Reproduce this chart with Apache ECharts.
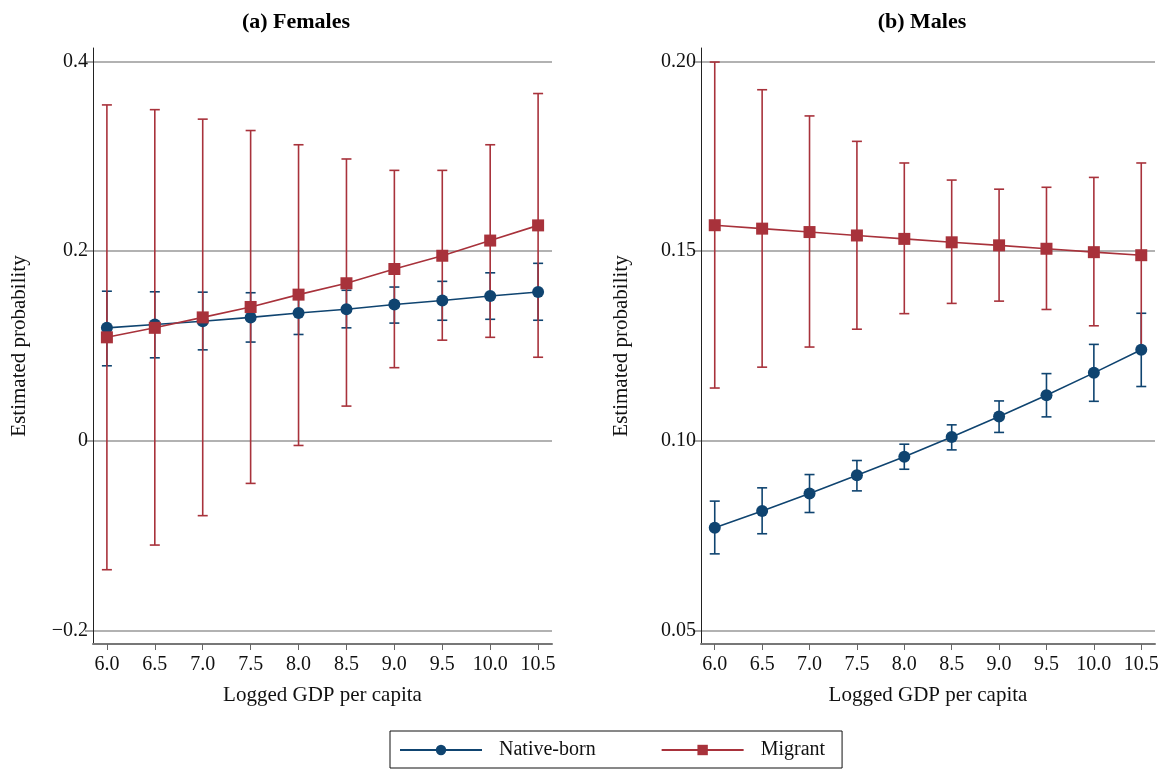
<!DOCTYPE html>
<html>
<head>
<meta charset="utf-8">
<script src="https://cdn.jsdelivr.net/npm/echarts@6/dist/echarts.min.js"></script>
<style>
  html, body { margin: 0; padding: 0; background: #fff; }
  #chart { width: 1165px; height: 772px; }
</style>
</head>
<body>
<div id="chart"></div>
<script>
// x positions (logged GDP per capita)
var gdp = [6.0, 6.5, 7.0, 7.5, 8.0, 8.5, 9.0, 9.5, 10.0, 10.5];

// (a) Females
var femNative    = [0.119, 0.1225, 0.126, 0.130, 0.1347, 0.1386, 0.1436, 0.1478, 0.1526, 0.1568];
var femNativeLo  = [0.079, 0.0874, 0.0958, 0.104, 0.112, 0.119, 0.124, 0.127, 0.128, 0.127];
var femNativeHi  = [0.1576, 0.157, 0.1566, 0.156, 0.156, 0.1586, 0.162, 0.168, 0.177, 0.187];
var femMigrant   = [0.109, 0.119, 0.130, 0.141, 0.154, 0.166, 0.181, 0.195, 0.211, 0.227];
var femMigrantLo = [-0.136, -0.110, -0.079, -0.045, -0.005, 0.0365, 0.077, 0.106, 0.109, 0.088];
var femMigrantHi = [0.354, 0.349, 0.339, 0.327, 0.312, 0.297, 0.285, 0.285, 0.312, 0.366];

// (b) Males
var malNative    = [0.0771, 0.0815, 0.0861, 0.0909, 0.0958, 0.1010, 0.1064, 0.1120, 0.1179, 0.1240];
var malNativeLo  = [0.0702, 0.0755, 0.0811, 0.0868, 0.0925, 0.0976, 0.1022, 0.1063, 0.1104, 0.1143];
var malNativeHi  = [0.0841, 0.0876, 0.0911, 0.0948, 0.0991, 0.1042, 0.1105, 0.1177, 0.1254, 0.1336];
var malMigrant   = [0.1568, 0.1559, 0.1550, 0.1541, 0.1532, 0.1523, 0.1515, 0.1506, 0.1497, 0.1489];
var malMigrantLo = [0.1139, 0.1194, 0.1247, 0.1294, 0.1335, 0.1362, 0.1368, 0.1346, 0.1303, 0.1246];
var malMigrantHi = [0.1998, 0.1925, 0.1856, 0.1789, 0.1732, 0.1687, 0.1663, 0.1668, 0.1694, 0.1732];

// tick labels
var xTicks = [6.0, 6.5, 7.0, 7.5, 8.0, 8.5, 9.0, 9.5, 10.0, 10.5];
var femYTicks = [-0.2, 0, 0.2, 0.4];
var malYTicks = [0.05, 0.10, 0.15, 0.20];

var NAVY = '#0f4470';
var RED = '#a8323b';
var FONT = '"Liberation Serif", "Times New Roman", serif';

var chart = echarts.init(document.getElementById('chart'));

function pairs(ys) {
  return gdp.map(function (x, i) { return [x, ys[i]]; });
}
function bars(lo, hi) {
  return gdp.map(function (x, i) { return [x, lo[i], hi[i]]; });
}

// error bars: vertical line + caps
function capRender(color) {
  return function (params, api) {
    var x = api.value(0);
    var p1 = api.coord([x, api.value(1)]);
    var p2 = api.coord([x, api.value(2)]);
    var w = 5;
    var style = { stroke: color, lineWidth: 1.6 };
    return {
      type: 'group',
      children: [
        { type: 'line', shape: { x1: p1[0], y1: p1[1], x2: p2[0], y2: p2[1] }, style: style },
        { type: 'line', shape: { x1: p1[0] - w, y1: p1[1], x2: p1[0] + w, y2: p1[1] }, style: style },
        { type: 'line', shape: { x1: p2[0] - w, y1: p2[1], x2: p2[0] + w, y2: p2[1] }, style: style }
      ]
    };
  };
}

function xAxisFor(idx) {
  return {
    gridIndex: idx,
    type: 'value',
    min: 5.855,
    max: 10.645,
    name: 'Logged GDP per capita',
    nameLocation: 'middle',
    nameGap: 41,
    nameTextStyle: { fontFamily: FONT, fontSize: 21, color: '#111' },
    axisLine: { show: true, onZero: false, lineStyle: { color: '#777', width: 2 } },
    axisTick: { show: true, length: 6, lineStyle: { color: '#666', width: 1 }, customValues: xTicks },
    axisLabel: {
      customValues: xTicks,
      margin: 11,
      fontFamily: FONT, fontSize: 20, color: '#111',
      formatter: function (v) { return v.toFixed(1); }
    },
    splitLine: { show: false }
  };
}

function yAxisFor(idx, min, max, ticks, fmt, gap) {
  return {
    gridIndex: idx,
    type: 'value',
    min: min,
    max: max,
    name: 'Estimated probability',
    nameLocation: 'middle',
    nameGap: gap,
    nameTextStyle: { fontFamily: FONT, fontSize: 21, color: '#111' },
    axisLine: { show: true, onZero: false, lineStyle: { color: '#222', width: 1 } },
    axisTick: { show: true, length: 8, lineStyle: { color: '#888', width: 1.5 }, customValues: ticks },
    axisLabel: {
      customValues: ticks,
      margin: 5,
      fontFamily: FONT, fontSize: 20, color: '#111',
      formatter: fmt
    },
    splitLine: { show: true, lineStyle: { color: '#999', width: 1.5 } }
  };
}

function femFmt(v) {
  if (Math.abs(v) < 1e-9) return '0';
  return (v < 0 ? '\u2212' : '') + Math.abs(v).toFixed(1);
}
function malFmt(v) { return v.toFixed(2); }

function lineSeries(name, idx, data, color, symbol, z) {
  return {
    name: name,
    type: 'line',
    xAxisIndex: idx,
    yAxisIndex: idx,
    data: data,
    symbol: symbol,
    symbolSize: 12,
    showSymbol: true,
    lineStyle: { color: color, width: 1.6 },
    itemStyle: { color: color },
    z: z,
    animation: false
  };
}

function capSeries(name, idx, data, color) {
  return {
    name: name,
    type: 'custom',
    xAxisIndex: idx,
    yAxisIndex: idx,
    data: data,
    renderItem: capRender(color),
    encode: { x: 0, y: [1, 2] },
    z: 2,
    animation: false
  };
}

var option = {
  backgroundColor: '#fff',
  animation: false,
  graphic: [
    { type: 'text', x: 296, y: 22, style: { text: '(a) Females', fontFamily: FONT, fontSize: 22, fontWeight: 'bold', fill: '#000', textAlign: 'center', textVerticalAlign: 'middle' } },
    { type: 'text', x: 922, y: 22, style: { text: '(b) Males', fontFamily: FONT, fontSize: 22, fontWeight: 'bold', fill: '#000', textAlign: 'center', textVerticalAlign: 'middle' } }
  ],
  legend: {
    data: ['Native-born', 'Migrant'],
    left: 390,
    top: 731,
    padding: [9, 17, 8, 9],
    itemWidth: 82,
    itemHeight: 13,
    itemGap: 65,
    borderColor: '#111',
    borderWidth: 1,
    textStyle: { fontFamily: FONT, fontSize: 20, color: '#111', padding: [0, 0, 0, 12] },
    selectedMode: false
  },
  grid: [
    { left: 93, top: 48, width: 459, height: 596 },
    { left: 701, top: 48, width: 454, height: 596 }
  ],
  xAxis: [xAxisFor(0), xAxisFor(1)],
  yAxis: [
    yAxisFor(0, -0.2143, 0.414, femYTicks, femFmt, 63),
    yAxisFor(1, 0.04645, 0.2035, malYTicks, malFmt, 69)
  ],
  series: [
    capSeries('ci-native-f', 0, bars(femNativeLo, femNativeHi), NAVY),
    capSeries('ci-migrant-f', 0, bars(femMigrantLo, femMigrantHi), RED),
    lineSeries('Native-born', 0, pairs(femNative), NAVY, 'circle', 3),
    lineSeries('Migrant', 0, pairs(femMigrant), RED, 'rect', 4),
    capSeries('ci-native-m', 1, bars(malNativeLo, malNativeHi), NAVY),
    capSeries('ci-migrant-m', 1, bars(malMigrantLo, malMigrantHi), RED),
    lineSeries('Native-born', 1, pairs(malNative), NAVY, 'circle', 3),
    lineSeries('Migrant', 1, pairs(malMigrant), RED, 'rect', 4)
  ]
};

chart.setOption(option);
</script>
</body>
</html>
